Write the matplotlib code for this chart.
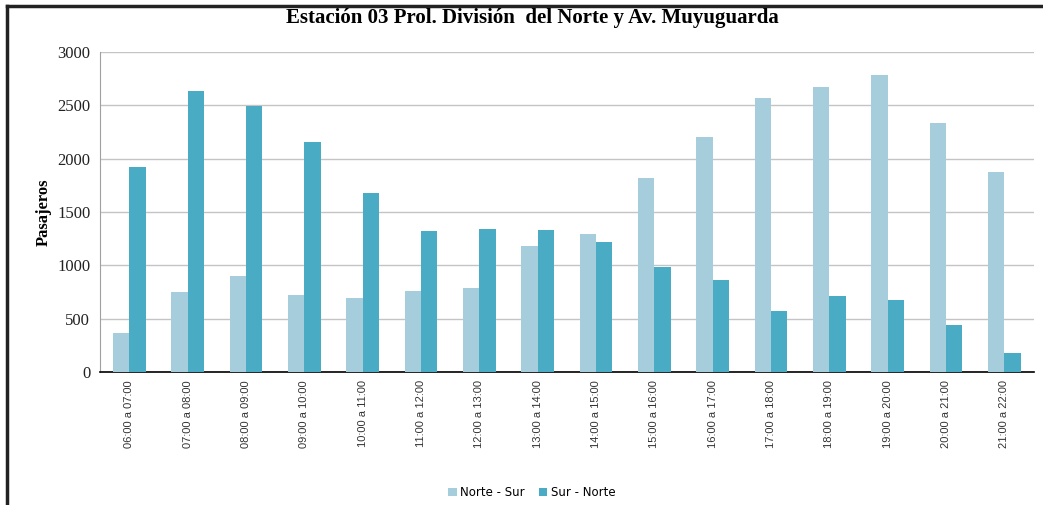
import matplotlib.pyplot as plt
from matplotlib.lines import Line2D
import numpy as np

horas = ["06:00 a 07:00", "07:00 a 08:00", "08:00 a 09:00", "09:00 a 10:00",
         "10:00 a 11:00", "11:00 a 12:00", "12:00 a 13:00", "13:00 a 14:00",
         "14:00 a 15:00", "15:00 a 16:00", "16:00 a 17:00", "17:00 a 18:00",
         "18:00 a 19:00", "19:00 a 20:00", "20:00 a 21:00", "21:00 a 22:00"]
norte_sur = [365, 746, 896, 725, 690, 756, 787, 1178,
             1297, 1819, 2200, 2569, 2672, 2784, 2331, 1878]
sur_norte = [1922, 2634, 2497, 2159, 1678, 1318, 1337, 1328,
             1219, 987, 865, 575, 715, 678, 437, 175]

fig = plt.figure(figsize=(10.43, 5.05), dpi=100)
ax = fig.add_axes([0.0959, 0.2634, 0.8951, 0.6336])

x = np.arange(len(horas))
w = 0.28
ax.bar(x - w/2, norte_sur, w, color='#a6cddb', label='Norte - Sur', zorder=3)
ax.bar(x + w/2, sur_norte, w, color='#4aabc5', label='Sur - Norte', zorder=3)

ax.set_xlim(-0.5, len(horas) - 0.5)
ax.set_ylim(0, 3000)
ax.set_yticks(range(0, 3001, 500))
ax.yaxis.grid(True, color='#c4c4c4', lw=1, zorder=0)
for lab in ax.get_yticklabels():
    lab.set_fontfamily('Liberation Serif')
    lab.set_fontsize(12)
    lab.set_color('#222222')
ax.set_xticks(x)
ax.set_xticklabels(horas, rotation=90, fontsize=8, family='Liberation Sans', color='#333333')
ax.tick_params(axis='x', length=0, pad=6)
ax.tick_params(axis='y', length=0, pad=7)

ax.spines['top'].set_visible(False)
ax.spines['right'].set_visible(False)
ax.spines['left'].set_color('#a0a0a0')
ax.spines['bottom'].set_color('black')
ax.spines['bottom'].set_linewidth(1.2)

ax.set_ylabel('Pasajeros', family='Liberation Serif', fontweight='bold', fontsize=12, labelpad=4)

fig.text(0.51, 0.964, 'Estación 03 Prol. División  del Norte y Av. Muyuguarda',
         ha='center', va='center', family='Liberation Serif', fontweight='bold', fontsize=15)

fig.legend(loc='center', bbox_to_anchor=(0.51, 0.025), ncol=2, frameon=False,
           fontsize=8.5, handlelength=0.7, handleheight=0.7, handletextpad=0.3,
           columnspacing=1.2)

# frame of the original picture (left and top)
fig.add_artist(Line2D([7/1043, 1], [1 - 6/505, 1 - 6/505], color='#222222', lw=2.5,
                      transform=fig.transFigure))
fig.add_artist(Line2D([7/1043, 7/1043], [0, 1 - 6/505], color='#222222', lw=2.5,
                      transform=fig.transFigure))

fig.savefig('out.png', dpi=100, facecolor='white')
